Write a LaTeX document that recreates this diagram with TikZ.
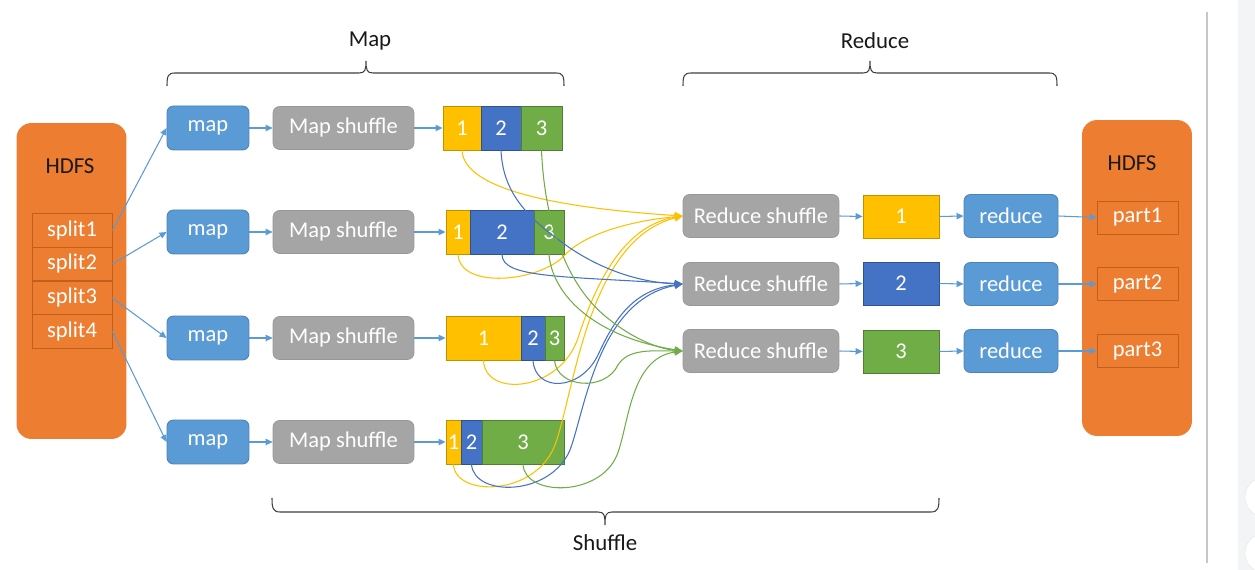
\documentclass[tikz,border=0pt]{standalone}
\usepackage{fontspec}
\setmainfont{Carlito}
\usetikzlibrary{arrows.meta}
\definecolor{hdfsorange}{HTML}{ED7D31}
\definecolor{splitedge}{HTML}{C0601C}
\definecolor{mapblue}{HTML}{5B9BD5}
\definecolor{mapedge}{HTML}{4A83B8}
\definecolor{shufgray}{HTML}{A5A5A5}
\definecolor{pyellow}{HTML}{FFC000}
\definecolor{pyellowedge}{HTML}{BF9000}
\definecolor{pblue}{HTML}{4472C4}
\definecolor{pblueedge}{HTML}{2F528F}
\definecolor{pgreen}{HTML}{70AD47}
\definecolor{pgreenedge}{HTML}{507E32}
\definecolor{bracegray}{HTML}{404040}
\definecolor{panelgray}{HTML}{F3F4F6}
\tikzset{
  hdfs/.style={fill=hdfsorange, draw=none, rounded corners=0.3cm, minimum width=2.2cm, minimum height=6.32cm},
  hdfslabel/.style={text=black!90, font=\fontsize{13}{15}\selectfont},
  splitbox/.style={draw=splitedge, line width=0.5pt, text=white, minimum width=1.6cm, minimum height=0.67cm, inner sep=0pt},
  mapbox/.style={fill=mapblue, draw=mapedge, line width=0.5pt, rounded corners=0.13cm, text=white, minimum width=1.64cm, minimum height=0.88cm, inner sep=0pt},
  shufbox/.style={fill=shufgray, draw=shufgray!92!black, line width=0.4pt, rounded corners=0.13cm, text=white, minimum height=0.86cm, inner sep=0pt},
  seg/.style={line width=0.5pt, text=white, minimum height=0.88cm, inner sep=0pt},
  ys/.style={seg, fill=pyellow, draw=pyellowedge},
  bs/.style={seg, fill=pblue, draw=pblueedge},
  gs/.style={seg, fill=pgreen, draw=pgreenedge},
  flow/.style={draw=mapblue, line width=0.6pt, -{Triangle[length=4pt,width=3.6pt]}},
  ycurve/.style={draw=pyellow, line width=0.6pt, -{Triangle[length=4.5pt,width=4pt]}},
  bcurve/.style={draw=pblue, line width=0.6pt, -{Triangle[length=4.5pt,width=4pt]}},
  gcurve/.style={draw=pgreen, line width=0.6pt, -{Triangle[length=4.5pt,width=4pt]}},
  brace/.style={draw=bracegray, line width=0.6pt},
  phase/.style={text=black!90, font=\fontsize{13}{15}\selectfont}
}
\begin{document}
\begin{tikzpicture}[x=0.02cm, y=-0.02cm, font=\fontsize{12.8}{15}\selectfont]
\path[use as bounding box, fill=white] (0,0) rectangle (1255,570);

% side panel of the page
\fill[panelgray] (1238,0) rectangle (1255,570);
\draw[black!22, line width=0.6pt] (1207,12) -- (1207,563);
\begin{scope}
  \clip (1238,0) rectangle (1255,570);
  \filldraw[white, draw=black!8] (1265,497) circle (20);
  \filldraw[white, draw=black!8] (1265,553) circle (20);
\end{scope}

% input store
\node[hdfs] (hdfsL) at (71.5,281) {};
\node[hdfslabel] (hdfsLtxt) at (70,166) {HDFS};
\node[splitbox] (s1) at (72,230.5) {split1};
\node[splitbox] (s2) at (72,264) {split2};
\node[splitbox] (s3) at (72,298) {split3};
\node[splitbox] (s4) at (72,331.5) {split4};

% map tasks
\foreach \i/\y in {1/128, 2/232, 3/338, 4/442} {
  \node[mapbox] (m\i) at (208,\y) {map};
  \node[shufbox, minimum width=2.82cm] (ms\i) at (343.5,\y) {Map shuffle};
}

% partitioned map output
\node[ys, minimum width=0.76cm] (b11) at (462,128) {1};
\node[bs, minimum width=0.80cm] (b12) at (501,128) {2};
\node[gs, minimum width=0.82cm] (b13) at (541.5,128) {3};

\node[ys, minimum width=0.48cm] (b21) at (458,232) {1};
\node[bs, minimum width=1.28cm] (b22) at (502,232) {2};
\node[gs, minimum width=0.60cm] (b23) at (549,232) {3};

\node[ys, minimum width=1.50cm] (b31) at (483.5,338) {1};
\node[bs, minimum width=0.48cm] (b32) at (533,338) {2};
\node[gs, minimum width=0.38cm] (b33) at (554.5,338) {3};

\node[ys, minimum width=0.30cm] (b41) at (453.5,442) {1};
\node[bs, minimum width=0.42cm] (b42) at (471.5,442) {2};
\node[gs, minimum width=1.64cm] (b43) at (523,442) {3};

% reduce side
\foreach \i/\y in {1/216, 2/284, 3/351} {
  \node[shufbox, minimum width=3.12cm] (rs\i) at (761,\y) {Reduce shuffle};
  \node[mapbox, minimum width=1.88cm, minimum height=0.86cm] (r\i) at (1011,\y) {reduce};
}
\node[ys, minimum width=1.52cm, minimum height=0.86cm] (k1) at (901,216.5) {1};
\node[bs, minimum width=1.52cm, minimum height=0.86cm] (k2) at (901,283.5) {2};
\node[gs, minimum width=1.52cm, minimum height=0.86cm] (k3) at (901,351.5) {3};

% output store
\node[hdfs] (hdfsR) at (1137,278) {};
\node[hdfslabel] (hdfsRtxt) at (1132,163) {HDFS};
\node[splitbox, minimum width=1.62cm, minimum height=0.66cm] (p1) at (1137.5,217.5) {part1};
\node[splitbox, minimum width=1.62cm, minimum height=0.66cm] (p2) at (1137.5,284) {part2};
\node[splitbox, minimum width=1.62cm, minimum height=0.66cm] (p3) at (1137.5,351) {part3};

% straight flow arrows
\draw[flow] (s1.east) -- (m1.west);
\draw[flow] (s2.east) -- (m2.west);
\draw[flow] (s3.east) -- (m3.west);
\draw[flow] (s4.east) -- (m4.west);
\foreach \i in {1,2,3,4} {
  \draw[flow] (m\i.east) -- (ms\i.west);
}
\draw[flow] (ms1.east) -- (b11.west);
\draw[flow] (ms2.east) -- (b21.west);
\draw[flow] (ms3.east) -- (b31.west);
\draw[flow] (ms4.east) -- (b41.west);
\foreach \i in {1,2,3} {
  \draw[flow] (rs\i.east) -- (k\i.west);
  \draw[flow] (k\i.east) -- (r\i.west);
  \draw[flow] (r\i.east) -- (p\i.west);
}

% shuffle: partition 1
\draw[ycurve] (b11.south) .. controls (464,190) and (560,208) .. (rs1.west);
\draw[ycurve] (b21.south) .. controls (460,290) and (540,282) .. (565,255) .. controls (580,238) and (620,222) .. (rs1.west);
\draw[ycurve] (b31.south) .. controls (485,398) and (560,392) .. (578,338) .. controls (593,292) and (620,226) .. (rs1.west);
\draw[ycurve] (b41.south) .. controls (455,497) and (535,497) .. (555,445) .. controls (575,390) and (588,240) .. (rs1.west);

% shuffle: partition 2
\draw[bcurve] (b12.south) .. controls (503,195) and (530,220) .. (570,248) .. controls (610,275) and (650,283) .. (rs2.west);
\draw[bcurve] (b22.south) .. controls (502,278) and (560,276) .. (rs2.west);
\draw[bcurve] (b32.south) .. controls (535,392) and (580,392) .. (598,355) .. controls (612,325) and (630,290) .. (rs2.west);
\draw[bcurve] (b42.south) .. controls (474,497) and (550,497) .. (570,450) .. controls (585,410) and (598,300) .. (rs2.west);

% shuffle: partition 3
\draw[gcurve] (b13.south) .. controls (545,230) and (570,290) .. (610,320) .. controls (635,340) and (660,349) .. (rs3.west);
\draw[gcurve] (b23.south) .. controls (552,292) and (590,336) .. (rs3.west);
\draw[gcurve] (b33.south) .. controls (557,388) and (605,392) .. (618,365) .. controls (628,348) and (655,351) .. (rs3.west);
\draw[gcurve] (b43.south) .. controls (525,497) and (600,497) .. (617,455) .. controls (629,425) and (630,358) .. (rs3.west);

% phase braces
\draw[brace] (167,86) .. controls (167,76) and (168,73) .. (175,73) -- (359,73)
  .. controls (365,73) and (366,70) .. (366,61) .. controls (366,70) and (367,73) .. (373,73)
  -- (556,73) .. controls (563,73) and (564,76) .. (564,86);
\node[phase] (lmap) at (370,41) {Map};

\draw[brace] (683,86) .. controls (683,76) and (684,73) .. (691,73) -- (863,73)
  .. controls (869,73) and (870,70) .. (870,61) .. controls (870,70) and (871,73) .. (877,73)
  -- (1049,73) .. controls (1056,73) and (1057,76) .. (1057,86);
\node[phase] (lred) at (875,41) {Reduce};

\draw[brace] (272,498) .. controls (272,508) and (273,512) .. (280,512) -- (598,512)
  .. controls (604,512) and (605,515) .. (605,525) .. controls (605,515) and (606,512) .. (612,512)
  -- (931,512) .. controls (938,512) and (939,508) .. (939,498);
\node[phase] (lshuf) at (605,543) {Shuffle};
\end{tikzpicture}
\end{document}
